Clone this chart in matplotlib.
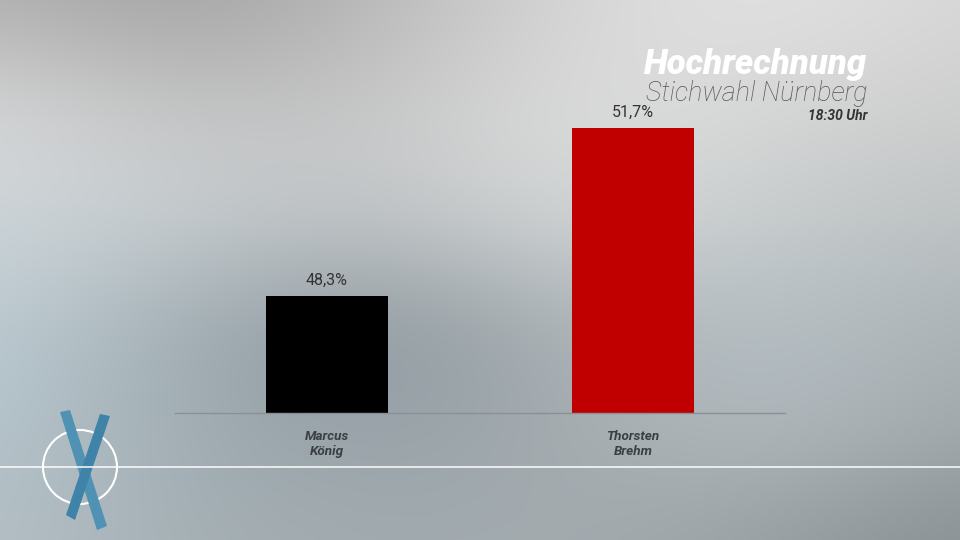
import numpy as np
import matplotlib
matplotlib.use("Agg")
import matplotlib.pyplot as plt
from matplotlib.patches import Circle, Polygon

# Data
candidates = ["Marcus\nKönig", "Thorsten\nBrehm"]
shares = [48.3, 51.7]
share_labels = ["48,3%", "51,7%"]
bar_colors = ["#000000", "#c00000"]

title = "Hochrechnung"
subtitle = "Stichwahl Nürnberg"
time_label = "18:30 Uhr"

plt.rcParams['font.family'] = ['Roboto', 'DejaVu Sans']

W, H = 960, 540
fig = plt.figure(figsize=(9.6, 5.4), dpi=100)

# background: coarse colour grid, smoothed by imshow
bg_grid = np.array([
    [(175, 175, 175), (160, 160, 160), (185, 185, 185), (215, 215, 215), (228, 228, 228), (215, 215, 215)],
    [(218, 218, 218), (195, 195, 195), (200, 200, 200), (222, 222, 222), (215, 215, 215), (205, 205, 205)],
    [(205, 213, 217), (200, 206, 209), (192, 196, 198), (215, 218, 218), (200, 205, 206), (190, 195, 196)],
    [(190, 205, 212), (158, 170, 176), (138, 148, 154), (170, 178, 182), (182, 192, 197), (170, 178, 182)],
    [(182, 197, 204), (160, 172, 178), (150, 160, 166), (165, 172, 176), (180, 188, 192), (160, 168, 172)],
    [(180, 192, 198), (165, 175, 180), (160, 170, 175), (165, 172, 176), (150, 158, 162), (135, 142, 146)],
]) / 255
bg = fig.add_axes([0, 0, 1, 1])
bg.imshow(bg_grid, extent=[-96, W + 96, H + 54, -54], aspect='auto', interpolation='bicubic')
bg.set_xlim(0, W)
bg.set_ylim(H, 0)
bg.axis('off')

# bottom line, circle and X logo
bg.plot([0, W], [467, 467], color='white', lw=1.2, alpha=0.9)
bg.add_patch(Circle((80, 467), 37, fill=False, ec='white', lw=1.5))
bg.add_patch(Polygon([[60, 412], [70, 410], [107, 526], [97, 530]], closed=True,
                     fc='#4f92b3', ec='none'))
bg.add_patch(Polygon([[100, 414], [110, 416], [75, 520], [66, 515]], closed=True,
                     fc='#3f84a8', ec='none'))

# chart
ax = fig.add_axes([175 / W, (H - 413) / H, 610 / W, 353 / H])
ax.patch.set_alpha(0)
x = np.arange(len(shares))
ax.bar(x, shares, width=0.4, color=bar_colors, bottom=0)
ax.set_xlim(-0.497, 1.497)
ax.set_ylim(45.93, 53.07)
for xi, v, lab in zip(x, shares, share_labels):
    ax.annotate(lab, (xi, v), xytext=(0, 6), textcoords='offset points',
                ha='center', va='bottom', fontsize=11.5, color='#333333')
ax.set_xticks(x)
ax.set_xticklabels(candidates, fontsize=9.7, fontweight='bold', style='italic',
                   color='#3a3f44', linespacing=1.2)
ax.tick_params(axis='x', length=0, pad=12)
ax.set_yticks([])
for s in ['top', 'right', 'left']:
    ax.spines[s].set_visible(False)
ax.spines['bottom'].set_color('#8a9095')
ax.spines['bottom'].set_linewidth(1)

# titles
fig.text(867 / W, 1 - 74 / H, title, ha='right', va='baseline', fontsize=25,
         fontweight='black', style='italic', color='white')
fig.text(867 / W, 1 - 101 / H, subtitle, ha='right', va='baseline', fontsize=19.3,
         fontweight='light', style='italic', color='#555555')
fig.text(867 / W, 1 - 120 / H, time_label, ha='right', va='baseline', fontsize=10,
         fontweight='bold', style='italic', color='#333333')

fig.savefig("out.png", dpi=100)
